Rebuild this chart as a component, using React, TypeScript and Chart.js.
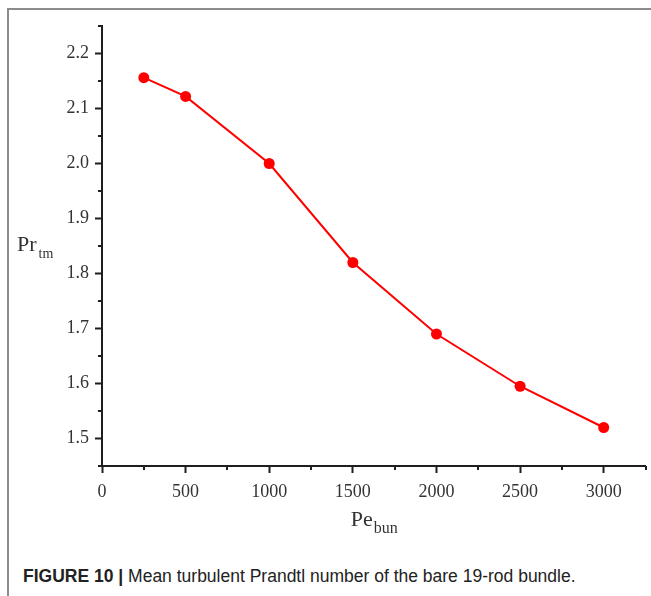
import React, { useEffect, useRef } from "react";
import { Chart, registerables } from "chart.js";

Chart.register(...registerables);

// Péclet number of the bundle and the mean turbulent Prandtl number
const peBun = [250, 500, 1000, 1500, 2000, 2500, 3000];
const prTm = [2.156, 2.122, 2.0, 1.82, 1.69, 1.595, 1.52];

const xMajorTicks = [0, 500, 1000, 1500, 2000, 2500, 3000];
const yMajorTicks = [1.5, 1.6, 1.7, 1.8, 1.9, 2.0, 2.1, 2.2];
const xMinorTicks = [250, 750, 1250, 1750, 2250, 2750, 3250];
const yMinorTicks = [1.45, 1.55, 1.65, 1.75, 1.85, 1.95, 2.05, 2.15, 2.25];

const SERIF = '"Liberation Serif", "DejaVu Serif", serif';
const AXIS_COLOR = "#1e1e1e";
const TEXT_COLOR = "#333333";

// Short minor ticks and the subscripted axis titles
const decorations = {
  id: "decorations",
  afterDraw(chart: any) {
    const { ctx, chartArea, scales } = chart;
    const x = scales.x;
    const y = scales.y;
    ctx.save();
    ctx.strokeStyle = AXIS_COLOR;
    ctx.lineWidth = 2;
    ctx.beginPath();
    for (const v of xMinorTicks) {
      const px = Math.round(x.getPixelForValue(v));
      ctx.moveTo(px, chartArea.bottom);
      ctx.lineTo(px, chartArea.bottom + 4);
    }
    for (const v of yMinorTicks) {
      const py = Math.round(y.getPixelForValue(v));
      ctx.moveTo(chartArea.left, py);
      ctx.lineTo(chartArea.left - 4, py);
    }
    ctx.stroke();

    ctx.fillStyle = TEXT_COLOR;
    ctx.textBaseline = "alphabetic";
    ctx.textAlign = "left";

    // y title: Pr_tm
    ctx.font = `22px ${SERIF}`;
    ctx.fillText("Pr", 17, 251);
    const wPr = ctx.measureText("Pr").width;
    ctx.font = `14px ${SERIF}`;
    ctx.fillText("tm", 17 + wPr + 2, 258);

    // x title: Pe_bun
    ctx.font = `22px ${SERIF}`;
    const wPe = ctx.measureText("Pe").width;
    ctx.font = `16px ${SERIF}`;
    const wBun = ctx.measureText("bun").width;
    const cx = (chartArea.left + chartArea.right) / 2;
    const startX = cx - (wPe + wBun) / 2;
    ctx.font = `22px ${SERIF}`;
    ctx.fillText("Pe", startX, 526);
    ctx.font = `16px ${SERIF}`;
    ctx.fillText("bun", startX + wPe + 1, 533);
    ctx.restore();
  },
};

export default function App() {
  const canvasRef = useRef<HTMLCanvasElement | null>(null);

  useEffect(() => {
    document.body.style.margin = "0";
    const canvas = canvasRef.current;
    if (!canvas) return;
    const chart = new Chart(canvas, {
      type: "line",
      data: {
        datasets: [
          {
            data: peBun.map((v, i) => ({ x: v, y: prTm[i] })),
            borderColor: "#ff0000",
            backgroundColor: "#ff0000",
            borderWidth: 2,
            pointRadius: 5.5,
            pointBackgroundColor: "#ff0000",
            pointBorderColor: "#ff0000",
            pointBorderWidth: 0,
            tension: 0,
          },
        ],
      },
      options: {
        responsive: false,
        animation: false,
        devicePixelRatio: 1,
        layout: { padding: { left: 0, top: 26, right: 3, bottom: 0 } },
        plugins: {
          legend: { display: false },
          tooltip: { enabled: false },
        },
        scales: {
          x: {
            type: "linear",
            min: 0,
            max: 3250,
            afterBuildTicks: (scale: any) => {
              scale.ticks = xMajorTicks.map((v) => ({ value: v }));
            },
            afterFit: (scale: any) => {
              scale.height = 74;
            },
            grid: {
              drawOnChartArea: false,
              drawTicks: true,
              tickLength: 7,
              tickWidth: 2,
              tickColor: AXIS_COLOR,
            },
            border: { display: true, color: AXIS_COLOR, width: 2 },
            ticks: {
              color: TEXT_COLOR,
              font: { family: SERIF, size: 18 },
              padding: 8,
              maxRotation: 0,
              callback: (v: any) => String(v),
            },
          },
          y: {
            type: "linear",
            min: 1.45,
            max: 2.25,
            afterBuildTicks: (scale: any) => {
              scale.ticks = yMajorTicks.map((v) => ({ value: v }));
            },
            afterFit: (scale: any) => {
              scale.width = 102;
            },
            grid: {
              drawOnChartArea: false,
              drawTicks: true,
              tickLength: 7,
              tickWidth: 2,
              tickColor: AXIS_COLOR,
            },
            border: { display: true, color: AXIS_COLOR, width: 2 },
            ticks: {
              color: TEXT_COLOR,
              font: { family: SERIF, size: 18 },
              padding: 6,
              callback: (v: any) => Number(v).toFixed(1),
            },
          },
        },
      },
      plugins: [decorations],
    });
    return () => chart.destroy();
  }, []);

  return (
    <div style={{ position: "relative", width: 651, height: 596, background: "#fff", overflow: "hidden" }}>
      <div
        style={{
          position: "absolute",
          left: 7,
          top: 8,
          width: 700,
          height: 700,
          borderTop: "2px solid #8c8c8c",
          borderLeft: "2px solid #8c8c8c",
        }}
      />
      <canvas ref={canvasRef} width={651} height={540} style={{ position: "absolute", left: 0, top: 0 }} />
      <div
        style={{
          position: "absolute",
          left: 23,
          top: 566,
          fontFamily: '"Liberation Sans", Arial, sans-serif',
          fontSize: 17.5,
          lineHeight: "20px",
          color: "#222",
          whiteSpace: "nowrap",
        }}
      >
        <b>FIGURE 10 |</b> Mean turbulent Prandtl number of the bare 19-rod bundle.
      </div>
    </div>
  );
}
